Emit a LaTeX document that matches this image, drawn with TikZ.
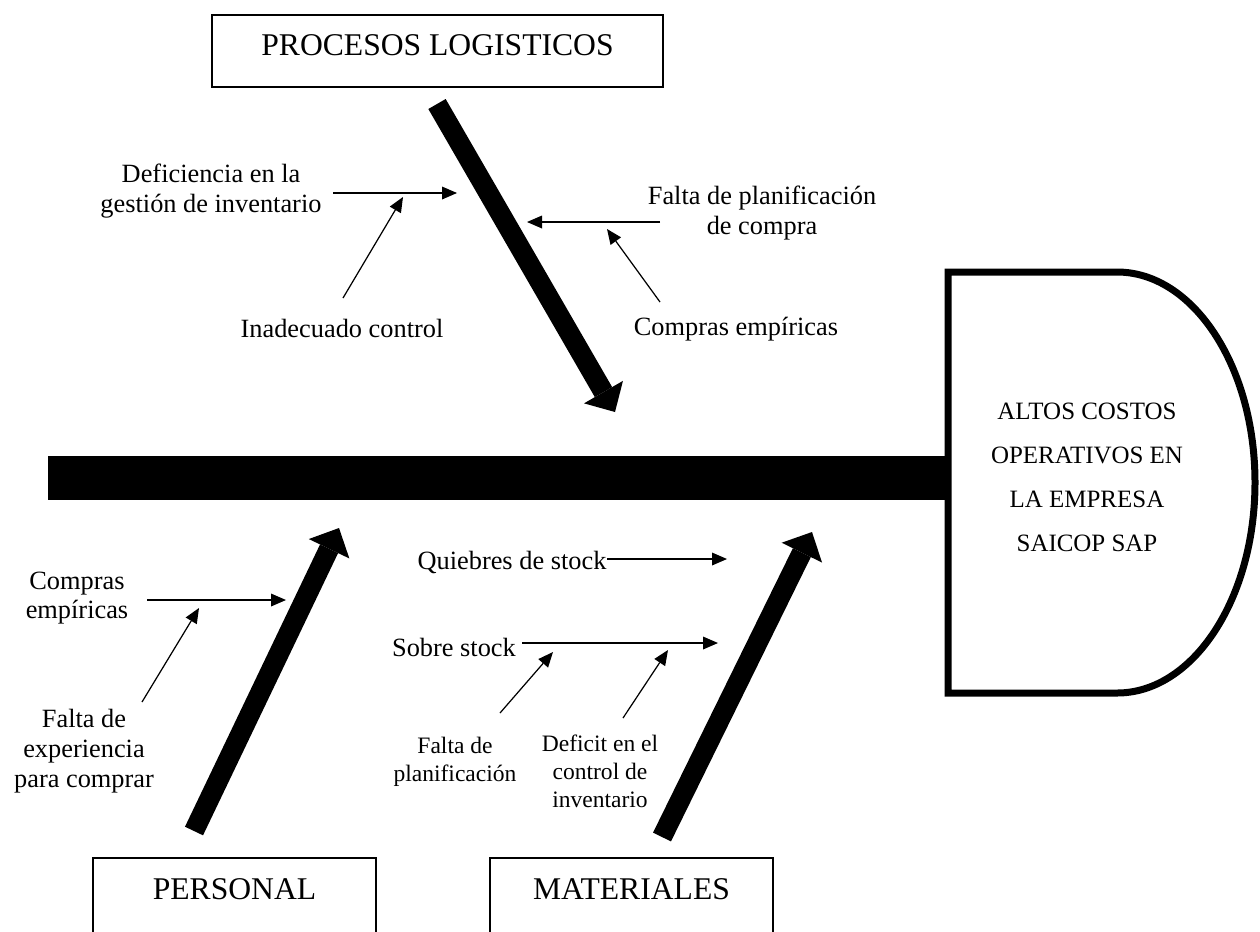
\documentclass[tikz,border=0pt]{standalone}
\usepackage{fontspec}
\setmainfont{Liberation Serif}
\usetikzlibrary{arrows.meta}

\begin{document}
\begin{tikzpicture}[x=0.02cm,y=-0.02cm,
    catbox/.style={draw,line width=1.4pt,font=\fontsize{18}{22}\selectfont,text height=0.45cm},
    causa/.style={align=center,font=\fontsize{15}{17}\selectfont},
    subcausa/.style={align=center,font=\fontsize{13.4}{16}\selectfont},
    espina/.style={line width=0.4cm,-{Triangle[length=0.46cm,width=0.9cm,line width=0pt]}},
    flecha/.style={line width=0.7pt,-{Triangle[length=0.3cm,width=0.26cm,line width=0pt]}}]
    \useasboundingbox (0,0) rectangle (1260,931);
    \clip (0,0) rectangle (1260,931);
    % --- efecto: cabeza del pescado
    \draw[line width=0.14cm,line join=miter] (1117,272) -- (948,272) -- (948,693) -- (1117,693)
      .. controls (1193,693) and (1255,599) .. (1255,482.5)
      .. controls (1255,366) and (1193,272) .. (1117,272);
    \node[align=center,font=\fontsize{14.2}{25}\selectfont] (efecto) at (1087,477)
      {ALTOS COSTOS\\OPERATIVOS EN\\LA EMPRESA\\SAICOP SAP};
    \coordinate (cola) at (48,478);
    \coordinate (cabeza) at (950,478);
    \draw[line width=0.88cm] (cola) -- (cabeza);
    % --- categorias
    \node[catbox,minimum width=9.02cm,minimum height=1.44cm,text depth=0.27cm] (procesos) at (437.5,51) {PROCESOS LOGISTICOS};
    \node[catbox,anchor=north,minimum width=5.66cm,minimum height=2cm,text depth=0.81cm] (personal) at (234.5,857) {PERSONAL};
    \node[catbox,anchor=north,minimum width=5.66cm,minimum height=2cm,text depth=0.81cm] (materiales) at (631.5,857) {MATERIALES};
    % --- espinas grandes
    \coordinate (p0) at (437,104);   \coordinate (p1) at (615,412);
    \coordinate (q0) at (194,831);   \coordinate (q1) at (339,528);
    \coordinate (m0) at (662,837);   \coordinate (m1) at (812,532);
    \draw[espina] (p0) -- (p1);
    \draw[espina] (q0) -- (q1);
    \draw[espina] (m0) -- (m1);
    % --- procesos logisticos
    \node[causa] (deficiencia) at (211,191) {Deficiencia en la\\gestión de inventario};
    \node[causa] (inadecuado) at (342,328) {Inadecuado control};
    \node[causa] (planifcompra) at (762,213) {Falta de planificación\\de compra};
    \node[causa] (empiricas) at (736,329) {Compras empíricas};
    \coordinate (d0) at (333,193); \coordinate (d1) at (457,193);
    \coordinate (i0) at (343,298); \coordinate (i1) at (403,197);
    \coordinate (f0) at (660,222); \coordinate (f1) at (527,222);
    \coordinate (e0) at (660,302); \coordinate (e1) at (607,229);
    \draw[flecha] (d0) -- (d1);
    \draw[flecha] (i0) -- (i1);
    \draw[flecha] (f0) -- (f1);
    \draw[flecha] (e0) -- (e1);
    % --- personal
    \node[causa] (empiricas2) at (77,598) {Compras\\empíricas};
    \node[causa] (experiencia) at (84,751) {Falta de\\experiencia\\para comprar};
    \coordinate (c0) at (147,600); \coordinate (c1) at (286,600);
    \coordinate (x0) at (142,702); \coordinate (x1) at (199,608);
    \draw[flecha] (c0) -- (c1);
    \draw[flecha] (x0) -- (x1);
    % --- materiales
    \node[causa] (quiebres) at (512,562) {Quiebres de stock};
    \node[causa] (sobre) at (454,647) {Sobre stock};
    \node[subcausa] (planif) at (455,762) {Falta de\\planificación};
    \node[subcausa] (deficit) at (600,771) {Deficit en el\\control de\\inventario};
    \coordinate (k0) at (607,559); \coordinate (k1) at (727,559);
    \coordinate (s0) at (522,643); \coordinate (s1) at (718,643);
    \coordinate (l0) at (500,713); \coordinate (l1) at (553,652);
    \coordinate (n0) at (623,718); \coordinate (n1) at (668,650);
    \draw[flecha] (k0) -- (k1);
    \draw[flecha] (s0) -- (s1);
    \draw[flecha] (l0) -- (l1);
    \draw[flecha] (n0) -- (n1);
\end{tikzpicture}
\end{document}
